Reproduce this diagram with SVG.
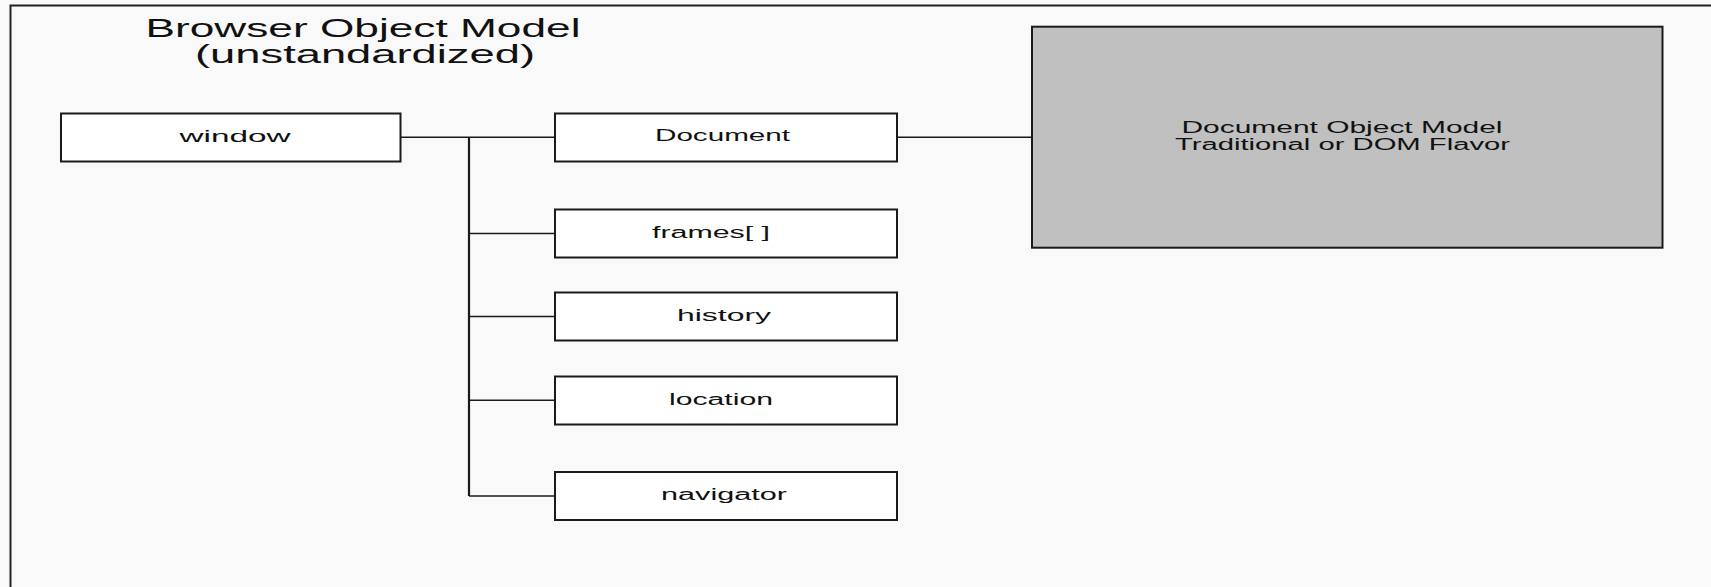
<svg xmlns="http://www.w3.org/2000/svg" width="1711" height="587" viewBox="0 0 1711 587">
  <style>
    .bg { fill: #f9f9f9; }
    .frame { fill: none; stroke: #222; stroke-width: 2; }
    .box { fill: #ffffff; stroke: #1a1a1a; stroke-width: 2; }
    .dom { fill: #c0c0c0; stroke: #1a1a1a; stroke-width: 2; }
    .lbl { font-family: "Liberation Sans", Arial, sans-serif; font-size: 16px; fill: #111; text-anchor: middle; }
    .title { font-family: "Liberation Sans", Arial, sans-serif; font-size: 25px; fill: #111; text-anchor: middle; }
    .wire { fill: none; stroke: #1a1a1a; stroke-width: 1.5; }
    .trunk { fill: none; stroke: #1a1a1a; stroke-width: 2.2; }
  </style>

  <rect class="bg" x="0" y="0" width="1711" height="587"/>
  <!-- open frame: left and top edges only -->
  <path class="frame" d="M10.5 587 V5.5 H1711"/>

  <g id="title">
    <text class="title" x="363" y="37" textLength="435" lengthAdjust="spacingAndGlyphs">Browser Object Model</text>
    <text class="title" x="365" y="63" textLength="340" lengthAdjust="spacingAndGlyphs">(unstandardized)</text>
  </g>

  <g id="connectors">
    <path class="wire" d="M400.5 137.3 H555"/>
    <path class="trunk" d="M469 137.3 V496"/>
    <path class="wire" d="M469 233.5 H555"/>
    <path class="wire" d="M469 316.5 H555"/>
    <path class="wire" d="M469 400.3 H555"/>
    <path class="wire" d="M469 496 H555"/>
    <path class="wire" d="M897 137.3 H1032"/>
  </g>

  <g id="window">
    <rect class="box" x="61" y="113.5" width="339.5" height="48"/>
    <text class="lbl" x="235" y="141.5" textLength="111" lengthAdjust="spacingAndGlyphs">window</text>
  </g>

  <g id="document">
    <rect class="box" x="555" y="113.5" width="342" height="48"/>
    <text class="lbl" x="722.5" y="141" textLength="135" lengthAdjust="spacingAndGlyphs">Document</text>
  </g>

  <g id="frames">
    <rect class="box" x="555" y="209.5" width="342" height="48"/>
    <text class="lbl" x="711" y="237.5" textLength="118" lengthAdjust="spacingAndGlyphs">frames[ ]</text>
  </g>

  <g id="history">
    <rect class="box" x="555" y="292.5" width="342" height="48"/>
    <text class="lbl" x="724" y="321" textLength="94" lengthAdjust="spacingAndGlyphs">history</text>
  </g>

  <g id="location">
    <rect class="box" x="555" y="376.5" width="342" height="48"/>
    <text class="lbl" x="721" y="405" textLength="104" lengthAdjust="spacingAndGlyphs">location</text>
  </g>

  <g id="navigator">
    <rect class="box" x="555" y="472" width="342" height="48"/>
    <text class="lbl" x="724" y="500" textLength="126" lengthAdjust="spacingAndGlyphs">navigator</text>
  </g>

  <g id="dom">
    <rect class="dom" x="1032" y="26.7" width="630.5" height="221"/>
    <text class="lbl" x="1342" y="132.5" textLength="321" lengthAdjust="spacingAndGlyphs">Document Object Model</text>
    <text class="lbl" x="1342.5" y="149.5" textLength="335" lengthAdjust="spacingAndGlyphs">Traditional or DOM Flavor</text>
  </g>
</svg>
